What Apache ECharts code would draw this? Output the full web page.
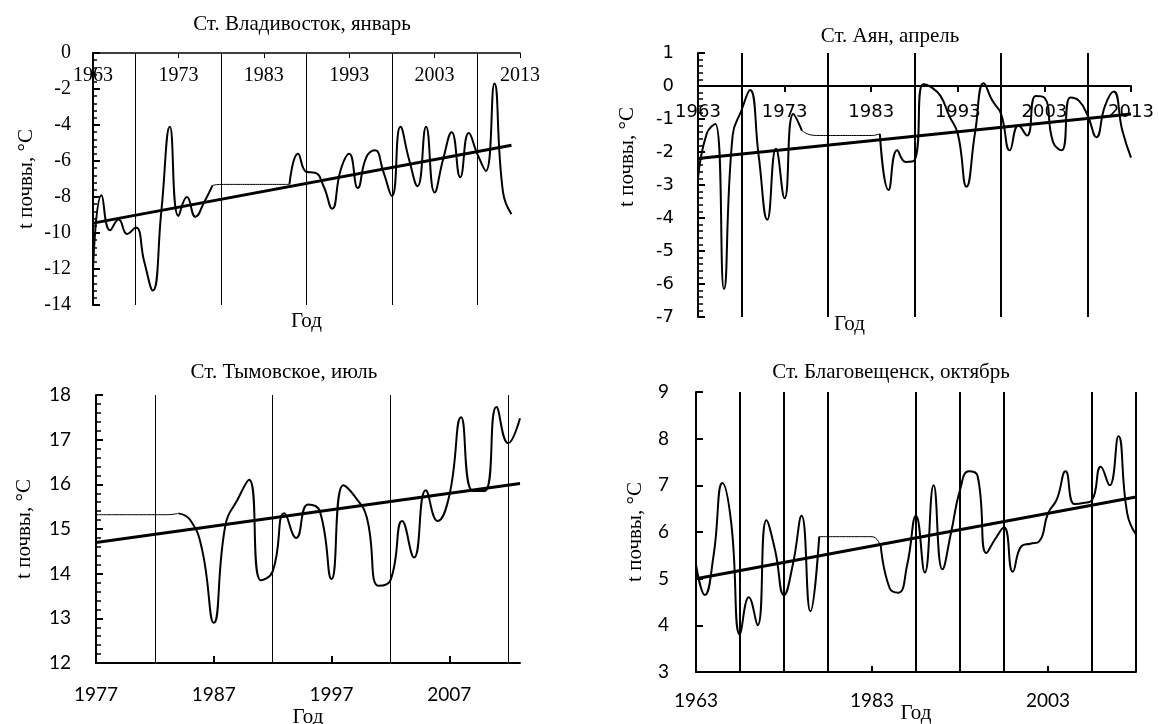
<!DOCTYPE html>
<html>
<head>
<meta charset="utf-8">
<title>t почвы</title>
<script src="https://cdn.jsdelivr.net/npm/echarts@6/dist/echarts.min.js"></script>
<style>
  html, body { margin: 0; background: #fff; }
  #chart { width: 1159px; height: 724px; }
</style>
</head>
<body>
<div id="chart"></div>
<script>
"use strict";

// Ст. Владивосток, январь (1963-2012)
var vladStart = 1963;
var vladTemp = [-12.0, -7.9, -9.85, -9.25, -10.05, -9.7, -11.6, -13.2, -8.8, -4.1,
  -9.05, -8.0, -9.1, -8.3, -7.35, -7.3, -7.3, -7.3, -7.3, -7.3,
  -7.3, -7.3, -7.3, -7.3, -5.6, -6.6, -6.65, -7.4, -8.65, -6.5,
  -5.6, -7.5, -5.8, -5.4, -6.6, -7.95, -4.1, -5.9, -7.4, -4.1,
  -7.75, -5.9, -4.4, -6.9, -4.45, -5.6, -6.55, -1.7, -7.7, -8.95];
var vladGap = [1977, 1986];               // годы без наблюдений (тонкая линия)
var vladTrendX = [1963, 2012];
var vladTrendY = [-9.45, -5.12];
var vladGridYears = [1968, 1978, 1988, 1998, 2008];

// Ст. Аян, апрель (1963-2013)
var ayanStart = 1963;
var ayanTemp = [-2.8, -1.45, -1.15, -6.15, -1.5, -0.75, -0.12, -2.1, -4.05, -1.9,
  -3.4, -0.85, -1.35, -1.48, -1.5, -1.5, -1.5, -1.5, -1.5, -1.5,
  -1.5, -1.45, -3.15, -1.95, -2.3, -2.25, 0.05, -0.05, -0.3, -0.9,
  -1.45, -3.05, -1.4, 0.08, -0.45, -0.85, -1.95, -1.2, -1.5, -0.3,
  -0.35, -1.7, -1.95, -0.35, -0.45, -0.9, -1.55, -0.6, -0.17, -1.35,
  -2.17];
var ayanGap = [1975, 1984];
var ayanTrendX = [1963, 2013];
var ayanTrendY = [-2.2, -0.85];
var ayanGridYears = [1968, 1978, 1988, 1998, 2008];

// Ст. Тымовское, июль (1977-2013)
var tymStart = 1977;
var tymTemp = [15.32, 15.32, 15.32, 15.32, 15.32, 15.32, 15.32, 15.35, 15.2, 14.55,
  12.9, 15.1, 15.65, 16.1, 13.85, 14.05, 15.35, 14.8, 15.55, 15.4,
  13.88, 15.98, 15.72, 15.25, 13.73, 13.85, 15.18, 14.36, 15.87, 15.18,
  15.75, 17.5, 15.85, 15.85, 17.73, 16.92, 17.48];
var tymGap = [1977, 1984];
var tymTrendX = [1977, 2013];
var tymTrendY = [14.7, 16.02];
var tymGridYears = [1982, 1992, 2002, 2012];

// Ст. Благовещенск, октябрь (1963-2013)
var blagStart = 1963;
var blagTemp = [5.3, 4.65, 5.5, 7.05, 6.2, 3.8, 4.6, 4.0, 6.25, 5.6,
  4.65, 5.3, 6.35, 4.3, 5.9, 5.9, 5.9, 5.9, 5.9, 5.9,
  5.9, 5.7, 4.8, 4.7, 5.3, 6.35, 5.13, 7.0, 5.2, 6.0,
  6.9, 7.3, 7.2, 5.55, 5.85, 6.1, 5.15, 5.7, 5.75, 5.8,
  6.4, 6.7, 7.3, 6.6, 6.62, 6.68, 7.4, 7.0, 8.05, 6.4,
  5.95];
var blagGap = [1977, 1984];
var blagTrendX = [1963, 2013];
var blagTrendY = [5.0, 6.75];
var blagGridYears = [1968, 1973, 1978, 1988, 1993, 1998, 2008, 2013];

var serif = 'Liberation Serif';
var black = '#000';

function yearLabel(v) {
  return String(v);
}

function splitGap(start, values, gap) {
  var thick = [], thin = [];
  values.forEach(function (v, i) {
    var yr = start + i;
    thick.push([yr, (yr > gap[0] && yr < gap[1]) ? '-' : v]);
    if (yr >= gap[0] && yr <= gap[1]) thin.push([yr, v]);
  });
  return { thick: thick, thin: thin };
}

function panelSeries(idx, start, values, gap, trendX, trendY, gridYears, gridWidth) {
  var parts = splitGap(start, values, gap);
  return [
    {
      type: 'line', xAxisIndex: idx, yAxisIndex: idx,
      data: parts.thick, smooth: 0.5, symbol: 'none', connectNulls: false,
      lineStyle: { color: black, width: 2 }, z: 3
    },
    {
      type: 'line', xAxisIndex: idx, yAxisIndex: idx,
      data: parts.thin, smooth: 0.5, symbol: 'none',
      lineStyle: { color: black, width: 1 }, z: 3
    },
    {
      type: 'line', xAxisIndex: idx, yAxisIndex: idx,
      data: trendX.map(function (x, i) { return [x, trendY[i]]; }),
      symbol: 'none',
      lineStyle: { color: black, width: 3 }, z: 4,
      markLine: {
        silent: true, symbol: ['none', 'none'], animation: false,
        label: { show: false },
        lineStyle: { color: black, width: gridWidth, type: 'solid' },
        emphasis: { disabled: true },
        data: gridYears.map(function (y) { return { xAxis: y }; })
      }
    }
  ];
}

function titleAt(text, x, y) {
  return {
    text: text, left: x, top: y, textAlign: 'center', padding: 0,
    textStyle: { fontFamily: serif, fontSize: 21, fontWeight: 'normal', color: black }
  };
}

var nameStyle = { fontFamily: serif, fontSize: 21, color: black };

var chart = echarts.init(document.getElementById('chart'), null, { renderer: 'canvas' });

var option = {
  animation: false,
  backgroundColor: '#fff',
  title: [
    titleAt('Ст. Владивосток, январь', 302, 14),
    titleAt('Ст. Аян, апрель', 890, 26),
    titleAt('Ст. Тымовское, июль', 284, 362),
    titleAt('Ст. Благовещенск, октябрь', 891, 362)
  ],
  grid: [
    { left: 93, top: 53, width: 427, height: 252, outerBoundsMode: 'none' },
    { left: 698, top: 53, width: 433, height: 264, outerBoundsMode: 'none' },
    { left: 96, top: 395, width: 424, height: 268, outerBoundsMode: 'none' },
    { left: 696, top: 392, width: 440, height: 280, outerBoundsMode: 'none' }
  ],
  xAxis: [
    {
      // ось лежит на нуле, то есть у верхнего края
      gridIndex: 0, type: 'value', min: 1963, max: 2013, interval: 10,
      position: 'bottom', offset: -252,
      axisLine: { onZero: false, lineStyle: { color: black, width: 1.5 } },
      axisTick: { inside: false, length: 5, lineStyle: { color: black } },
      axisLabel: { color: black, fontFamily: serif, fontSize: 20, margin: 13, formatter: yearLabel },
      splitLine: { show: false },
      name: 'Год', nameLocation: 'middle', nameGap: 258, nameMoveOverlap: false, nameTextStyle: nameStyle
    },
    {
      // ось на нуле: 1/8 высоты от верха
      gridIndex: 1, type: 'value', min: 1963, max: 2013, interval: 10,
      position: 'bottom', offset: -231,
      axisLine: { onZero: false, lineStyle: { color: black, width: 2 } },
      axisTick: { inside: false, length: 6, lineStyle: { color: black, width: 2 } },
      axisLabel: { color: black, fontFamily: 'DejaVu Sans', fontSize: 18, margin: 17, formatter: yearLabel },
      splitLine: { show: false },
      name: 'Год', nameLocation: 'middle', nameGap: 228, nameMoveOverlap: false,
      nameTextStyle: Object.assign({ padding: [0, 130, 0, 0] }, nameStyle)
    },
    {
      gridIndex: 2, type: 'value', min: 1977, max: 2013, interval: 10,
      axisLine: { onZero: false, lineStyle: { color: black, width: 2 } },
      axisTick: { inside: true, length: 7, lineStyle: { color: black, width: 2 } },
      axisLabel: { color: black, fontFamily: 'Lato', fontSize: 19, margin: 22, showMaxLabel: false, formatter: yearLabel },
      splitLine: { show: false },
      name: 'Год', nameLocation: 'middle', nameGap: 44, nameMoveOverlap: false, nameTextStyle: nameStyle
    },
    {
      gridIndex: 3, type: 'value', min: 1963, max: 2013, interval: 20,
      axisLine: { onZero: false, lineStyle: { color: black, width: 2 } },
      axisTick: { inside: true, length: 6, lineStyle: { color: black, width: 2 } },
      axisLabel: { color: black, fontFamily: 'Lato', fontSize: 19, margin: 19, showMaxLabel: false, formatter: yearLabel },
      splitLine: { show: false },
      name: 'Год', nameLocation: 'middle', nameGap: 31, nameMoveOverlap: false, nameTextStyle: nameStyle
    }
  ],
  yAxis: [
    {
      gridIndex: 0, type: 'value', min: -14, max: 0, interval: 2,
      axisLine: { show: true, onZero: false, lineStyle: { color: black, width: 2 } },
      axisTick: { show: true, inside: true, length: 7, lineStyle: { color: black, width: 2 } },
      minorTick: { show: true, splitNumber: 5, length: 4, lineStyle: { color: black, width: 1.5 } },
      axisLabel: { color: black, fontFamily: serif, fontSize: 20, margin: 22 },
      splitLine: { show: false },
      name: 't почвы, °C', nameLocation: 'middle', nameGap: 56, nameMoveOverlap: false, nameTextStyle: nameStyle
    },
    {
      gridIndex: 1, type: 'value', min: -7, max: 1, interval: 1,
      axisLine: { show: true, onZero: false, lineStyle: { color: black, width: 2 } },
      axisTick: { show: true, inside: true, length: 7, lineStyle: { color: black, width: 2 } },
      minorTick: { show: true, splitNumber: 5, length: 5, lineStyle: { color: black, width: 1.5 } },
      axisLabel: { color: black, fontFamily: 'DejaVu Sans', fontSize: 18, margin: 24 },
      splitLine: { show: false },
      name: 't почвы, °C', nameLocation: 'middle', nameGap: 60, nameMoveOverlap: false,
      nameTextStyle: Object.assign({ padding: [0, 0, 0, 56] }, nameStyle)
    },
    {
      gridIndex: 2, type: 'value', min: 12, max: 18, interval: 1,
      axisLine: { show: true, onZero: false, lineStyle: { color: black, width: 2 } },
      axisTick: { show: true, inside: true, length: 7, lineStyle: { color: black, width: 2 } },
      minorTick: { show: true, splitNumber: 5, length: 5, lineStyle: { color: black, width: 1.5 } },
      axisLabel: { color: black, fontFamily: 'Lato', fontSize: 19, margin: 25 },
      splitLine: { show: false },
      name: 't почвы, °C', nameLocation: 'middle', nameGap: 61, nameMoveOverlap: false, nameTextStyle: nameStyle
    },
    {
      gridIndex: 3, type: 'value', min: 3, max: 9, interval: 1,
      axisLine: { show: true, onZero: false, lineStyle: { color: black, width: 2 } },
      axisTick: { show: true, inside: true, length: 7, lineStyle: { color: black, width: 2 } },
      axisLabel: { color: black, fontFamily: 'Lato', fontSize: 19, margin: 27 },
      splitLine: { show: false },
      name: 't почвы, °C', nameLocation: 'middle', nameGap: 50, nameMoveOverlap: false, nameTextStyle: nameStyle
    }
  ],
  series: []
    .concat(panelSeries(0, vladStart, vladTemp, vladGap, vladTrendX, vladTrendY, vladGridYears, 1))
    .concat(panelSeries(1, ayanStart, ayanTemp, ayanGap, ayanTrendX, ayanTrendY, ayanGridYears, 2))
    .concat(panelSeries(2, tymStart, tymTemp, tymGap, tymTrendX, tymTrendY, tymGridYears, 1))
    .concat(panelSeries(3, blagStart, blagTemp, blagGap, blagTrendX, blagTrendY, blagGridYears, 2))
};

chart.setOption(option);
</script>
</body>
</html>
